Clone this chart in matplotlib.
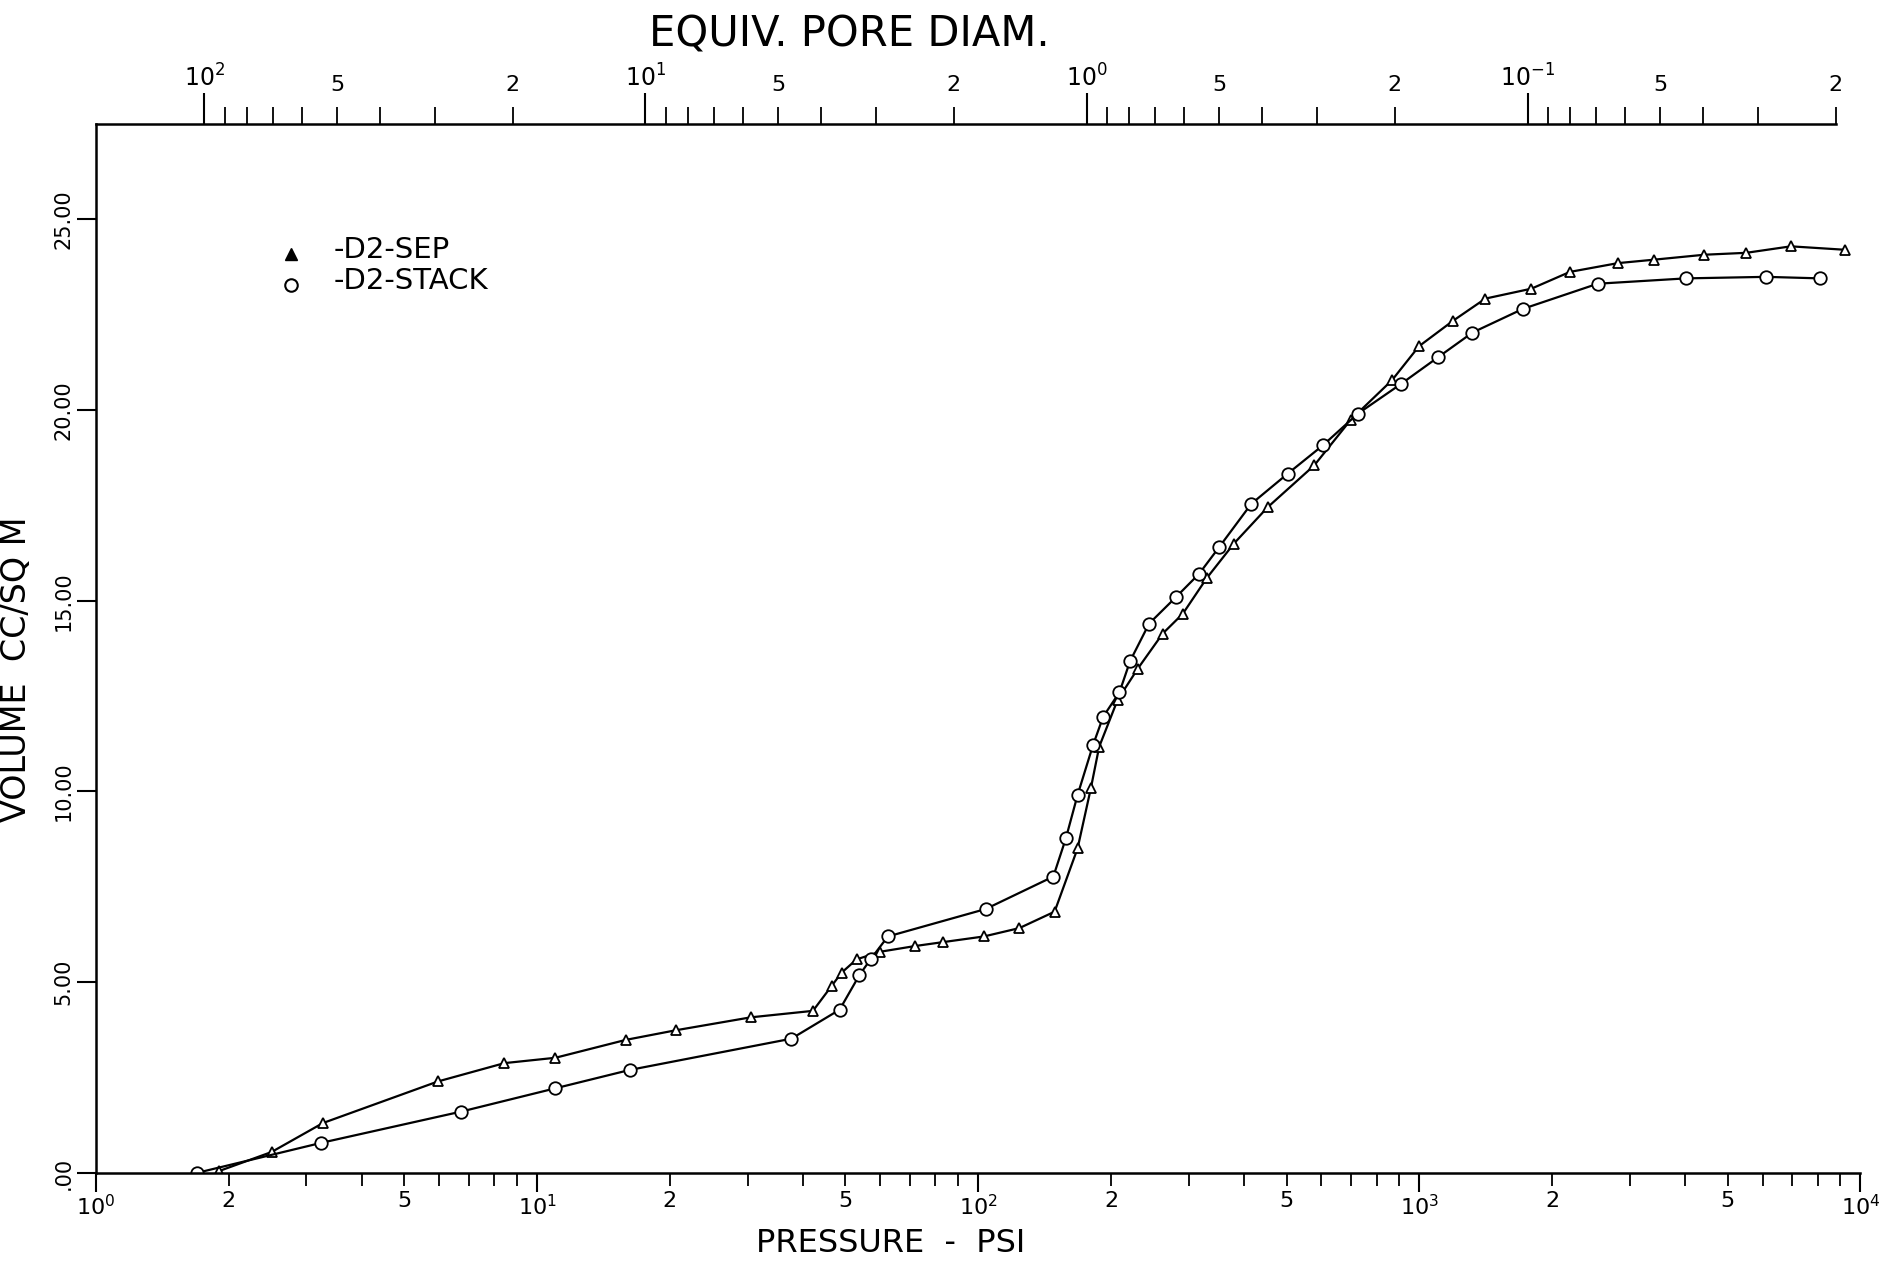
import numpy as np
import matplotlib
matplotlib.use("Agg")
import matplotlib.pyplot as plt

# pressure (psi) / volume (cc per sq m)
sep_p = [1.9, 2.5, 3.27, 5.96, 8.43, 11.0, 15.9, 20.6, 30.5, 42.2, 46.5, 49.0, 53.0, 60.0,
         72.0, 83.0, 103, 124, 149, 168, 180, 188, 207, 230, 262, 291, 330, 380, 453, 578,
         700, 867, 998, 1193, 1412, 1795, 2195, 2820, 3404, 4430, 5510, 6955, 9220]
sep_v = [0.05, 0.55, 1.31, 2.40, 2.88, 3.02, 3.49, 3.74, 4.08, 4.25, 4.9, 5.25, 5.6, 5.8,
         5.95, 6.05, 6.2, 6.42, 6.85, 8.51, 10.08, 11.17, 12.4, 13.22, 14.14, 14.66, 15.6, 16.5, 17.45, 18.55,
         19.75, 20.78, 21.67, 22.34, 22.92, 23.18, 23.62, 23.85, 23.94, 24.07, 24.12, 24.29, 24.2]

stack_p = [1.69, 3.24, 6.73, 11.0, 16.2, 37.7, 48.5, 53.8, 57.0, 62.4, 104, 148, 158, 168,
           182, 192, 209, 221, 244, 281, 317, 352, 416, 503, 604, 725, 908, 1105, 1320, 1717,
           2537, 4020, 6110, 8110]
stack_v = [0.0, 0.79, 1.61, 2.22, 2.70, 3.52, 4.28, 5.19, 5.6, 6.20, 6.92, 7.77, 8.77, 9.91,
           11.21, 11.96, 12.6, 13.42, 14.40, 15.10, 15.71, 16.41, 17.54, 18.33, 19.07, 19.90, 20.68, 21.39, 22.03, 22.65,
           23.31, 23.45, 23.49, 23.45]

yticks = [0, 5, 10, 15, 20, 25]
ytick_labels = ['.00', '5.00', '10.00', '15.00', '20.00', '25.00']
x_major = [1, 10, 100, 1000, 10000]
x_major_labels = [r'$10^{0}$', r'$10^{1}$', r'$10^{2}$', r'$10^{3}$', r'$10^{4}$']
d_major = [100, 10, 1, 0.1]
d_major_labels = [r'$10^{2}$', r'$10^{1}$', r'$10^{0}$', r'$10^{-1}$']

PORE_K = 176.0  # equiv. pore diameter = K / pressure

plt.rcParams['font.family'] = ['DejaVu Sans']

fig = plt.figure(figsize=(18.83, 12.64), dpi=100)
ax = fig.add_axes([0.051, 0.072, 0.937, 0.830])

ax.plot(sep_p, sep_v, color='black', lw=1.6, marker='^', ms=7,
        mfc='white', mec='black', mew=1.3)
ax.plot(stack_p, stack_v, color='black', lw=1.6, marker='o', ms=9,
        mfc='white', mec='black', mew=1.3)

ax.set_xscale('log')
ax.set_xlim(1, 10000)
ax.set_ylim(0, 27.5)

# bottom axis
ax.set_xticks(x_major, labels=x_major_labels)
minors = [k * 10 ** e for e in range(0, 4) for k in range(2, 10)]
minor_labels = [str(k) if k in (2, 5) else '' for e in range(0, 4) for k in range(2, 10)]
ax.set_xticks(minors, labels=minor_labels, minor=True)
ax.tick_params(axis='x', which='major', direction='out', length=14, width=1.5, pad=1, labelsize=16)
ax.tick_params(axis='x', which='minor', direction='out', length=9, width=1.3, pad=4, labelsize=16)

# left axis
ax.set_yticks(yticks, labels=ytick_labels)
ax.tick_params(axis='y', direction='out', length=14, width=1.5, pad=2, labelsize=15)
for t in ax.get_yticklabels():
    t.set_rotation(90)
    t.set_va('center')

ax.spines['right'].set_visible(False)
ax.spines['top'].set_visible(False)
for s in ['left', 'bottom']:
    ax.spines[s].set_linewidth(1.8)

ax.set_ylabel('VOLUME  CC/SQ M', fontsize=24)
ax.yaxis.set_label_coords(-0.036, 0.48)

# top axis: equivalent pore diameter
def p2d(p):
    p = np.asarray(p, dtype=float)
    with np.errstate(divide='ignore'):
        return PORE_K / p

sec = ax.secondary_xaxis('top', functions=(p2d, p2d))
sec.set_ticks(d_major, labels=d_major_labels)
d_minor = [k * 10.0 ** e for e in range(-2, 2) for k in range(2, 10)]
d_minor_labels = [str(k) if k in (2, 5) else '' for e in range(-2, 2) for k in range(2, 10)]
sec.set_ticks(d_minor, labels=d_minor_labels, minor=True)
sec.tick_params(axis='x', which='major', direction='out', length=22, width=1.5, pad=1, labelsize=17)
sec.tick_params(axis='x', which='minor', direction='out', length=12, width=1.3, pad=9, labelsize=16)
sec.spines['top'].set_linewidth(1.8)
sec.spines['top'].set_bounds(0.02, PORE_K)

fig.text(0.451, 0.973, 'EQUIV. PORE DIAM.', fontsize=30, ha='center', va='center')
fig.text(0.473, 0.016, 'PRESSURE  -  PSI', fontsize=23, ha='center', va='center')

# legend drawn by hand like the plotter did
ax.plot([0.1105], [0.876], marker='^', ms=8, color='black', transform=ax.transAxes, clip_on=False)
ax.text(0.1348, 0.880, '-D2-SEP', fontsize=21, transform=ax.transAxes, va='center')
ax.plot([0.1105], [0.846], marker='o', ms=9, mfc='white', mec='black', mew=1.5,
        transform=ax.transAxes, clip_on=False)
ax.text(0.1348, 0.850, '-D2-STACK', fontsize=21, transform=ax.transAxes, va='center')

fig.savefig('out.png', dpi=100)
